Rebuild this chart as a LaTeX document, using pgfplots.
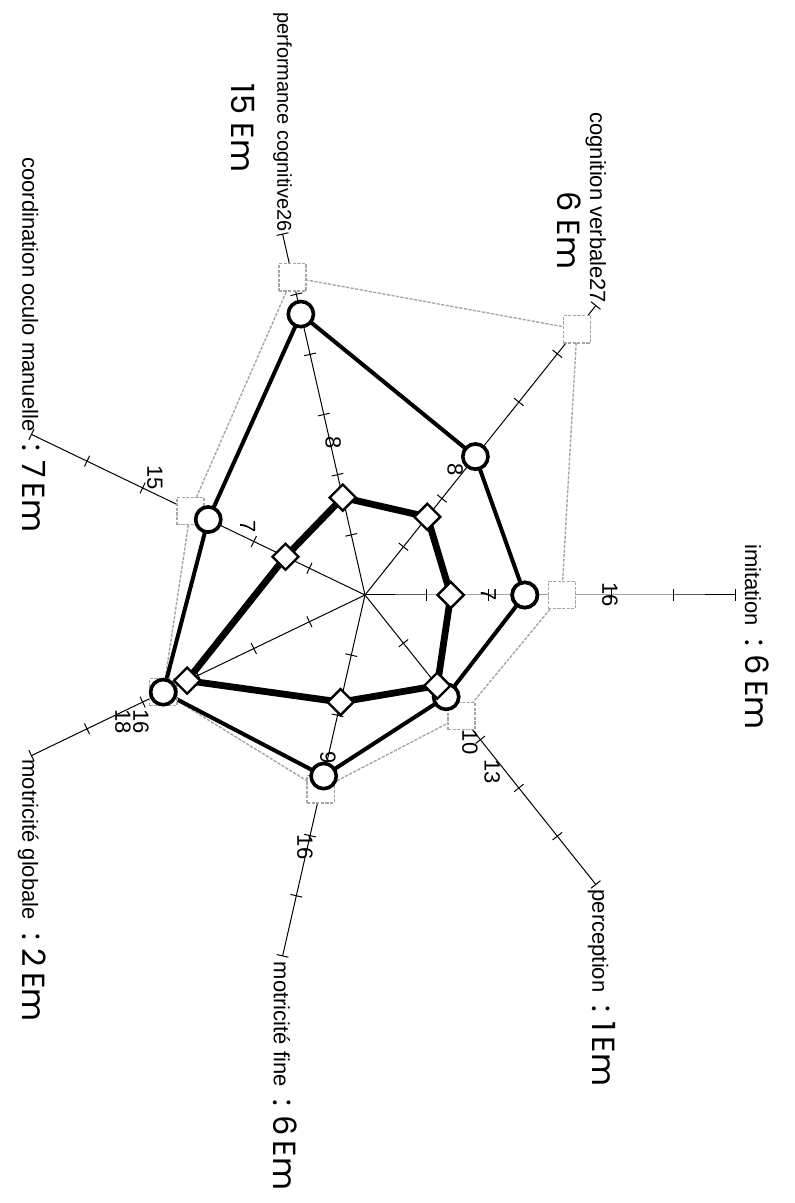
\documentclass[border=0pt]{standalone}
\usepackage{fontspec}
\setmainfont{Liberation Sans}
\newfontfamily\hw{Poppins}
\usepackage{pgfplots}
\pgfplotsset{compat=1.18}
\usepgfplotslibrary{polar}

% spokes: angle in image frame (0 = imitation), radius in tick units (6 = end)
\pgfplotsset{
  spoke/.style={black, line width=0.5pt, mark=|, mark size=3pt,
    mark indices={2,3,4,5,6,7}, mark options={rotate=#1, solid}},
}
\tikzset{
  lab/.style={rotate=-90, inner sep=1pt, font=\fontsize{11pt}{13pt}\selectfont},
  hwn/.style={rotate=-90, inner sep=1pt, font=\hw\fontsize{16pt}{19pt}\selectfont},
  num/.style={rotate=-90, inner sep=0.5pt, font=\fontsize{11pt}{12pt}\selectfont, align=center},
}

\begin{document}
\begin{tikzpicture}
\begin{polaraxis}[
  hide axis, scale only axis,
  width=370.2pt, height=370.2pt,
  ymin=0, ymax=6, xmin=0, xmax=360,
  clip=false,
]
\coordinate (C) at (axis cs:0,0);

% ---------------- spokes with ticks
\addplot[spoke=0]      coordinates {(0,0)(0,1)(0,2)(0,3)(0,4)(0,5)(0,6)};
\addplot[spoke=308.57] coordinates {(308.57,0)(308.57,1)(308.57,2)(308.57,3)(308.57,4)(308.57,5)(308.57,6)};
\addplot[spoke=257.14] coordinates {(257.14,0)(257.14,1)(257.14,2)(257.14,3)(257.14,4)(257.14,5)(257.14,6)};
\addplot[spoke=205.71] coordinates {(205.71,0)(205.71,1)(205.71,2)(205.71,3)(205.71,4)(205.71,5)(205.71,6)};
\addplot[spoke=154.29] coordinates {(154.29,0)(154.29,1)(154.29,2)(154.29,3)(154.29,4)(154.29,5)(154.29,6)};
\addplot[spoke=102.86] coordinates {(102.86,0)(102.86,1)(102.86,2)(102.86,3)(102.86,4)(102.86,5)(102.86,6)};
\addplot[spoke=51.43]  coordinates {(51.43,0)(51.43,1)(51.43,2)(51.43,3)(51.43,4)(51.43,5)(51.43,6)};

% ---------------- grey series (squares)
\addplot[color=black!35, line width=0.7pt, dash pattern=on 1.6pt off 0.7pt,
  mark=square*, mark size=6.8pt,
  mark options={fill=white, draw=black!35, line width=0.7pt}]
  coordinates {
  (0,3.19) (308.57,2.51) (257.14,3.23) (205.71,3.63)
  (154.29,3.14) (102.86,5.28) (51.43,5.51) (0,3.19)
  };

% ---------------- circles
\addplot[black, line width=2pt, mark=*, mark size=6.3pt,
  mark options={fill=white, draw=black, line width=1.8pt}]
  coordinates {
  (0,2.59) (308.57,2.11) (257.14,3.01) (205.71,3.63)
  (154.29,2.82) (102.86,4.67) (51.43,2.87) (0,2.59)
  };

% ---------------- diamonds
\addplot[black, line width=3.4pt, mark=square*, mark size=4.6pt,
  mark options={rotate=45, fill=white, draw=black, line width=1.2pt}]
  coordinates {
  (0,1.39) (308.57,1.88) (257.14,1.78) (205.71,3.20)
  (154.29,1.43) (102.86,1.62) (51.43,1.62) (0,1.39)
  };

% ---------------- numbers along the spokes
\node[num] at (axis cs:0,3.97) {16};
\node[num] at (axis cs:0,2.0) {7};
\node[num] at (axis cs:305.5,2.93) {10};
\node[num] at (axis cs:305.7,3.53) {13};
\node[num] at (axis cs:256.6,4.2) {16};
\node[num] at (axis cs:257.2,2.71) {9};
\node[num] at (axis cs:208.6,4.3) {16\\[-3pt]18};
\node[num] at (axis cs:150.9,3.9) {15};
\node[num] at (axis cs:149.8,2.2) {7};
\node[num] at (axis cs:101.8,2.53) {8};
\node[num] at (axis cs:54.2,2.5) {8};

% ---------------- axis labels
\node[lab, anchor=south] (L0) at (axis cs:1.5,6.12) {imitation};
\node[hwn, anchor=base west] at (L0.base east) {\ :\ 6\,Em};

\node[lab, anchor=west] (L1) at (axis cs:308.57,6.06) {perception};
\node[hwn, anchor=base west] at (L1.base east) {\ :\ 1\,Em};

\node[lab, anchor=west] (L2) at (axis cs:257.14,6.06) {motricité fine};
\node[hwn, anchor=base west] at (L2.base east) {\ :\ 6\,Em};

\node[lab, anchor=west] (L3) at (axis cs:205.71,6.06) {motricité globale};
\node[hwn, anchor=base west] at (L3.base east) {\ :\ 2\,Em};

\node[lab, anchor=east] (L4) at (axis cs:154.29,6.02) {coordination oculo manuelle};
\node[hwn, anchor=base west] at (L4.base east) {\ :\ 7\,Em};

\node[lab, anchor=east, font=\fontsize{10pt}{12pt}\selectfont] at (axis cs:102.86,6.0) {performance cognitive26};
\node[hwn] at (axis cs:104.6,7.82) {15 Em};

\node[lab, anchor=east] at (axis cs:51.43,6.0) {cognition verbale27};
\node[hwn] at (axis cs:60.7,6.78) {6 Em};
\end{polaraxis}
\pgfresetboundingbox
\path[use as bounding box] ([shift={(-182.5pt,-304pt)}]C) rectangle ([shift={(215pt,297.5pt)}]C);
\end{tikzpicture}
\end{document}
